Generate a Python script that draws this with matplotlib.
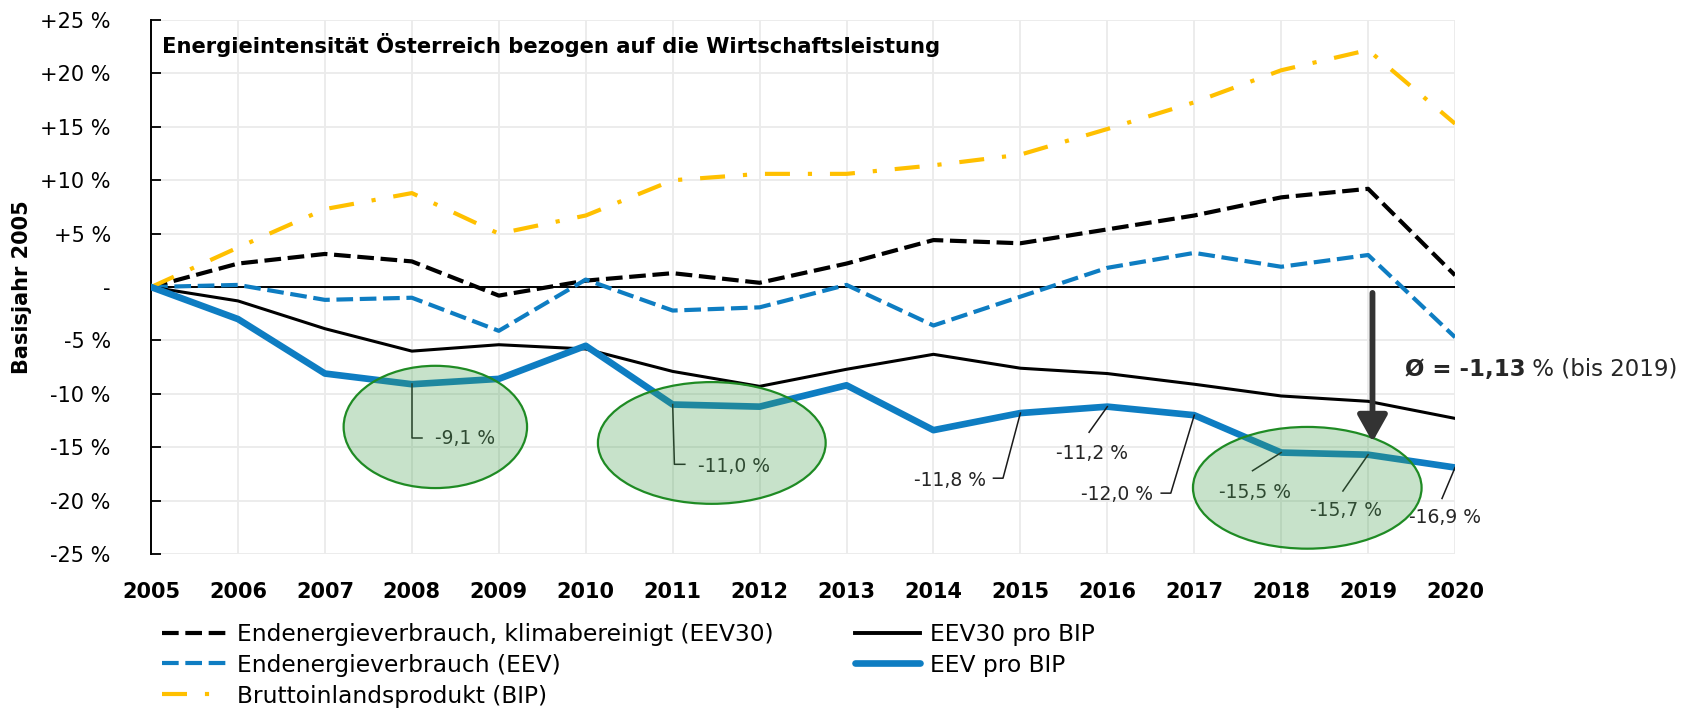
import matplotlib
matplotlib.use('Agg')
import matplotlib.pyplot as plt
from matplotlib.patches import Ellipse
from matplotlib.lines import Line2D
from matplotlib.transforms import offset_copy

plt.rcParams['font.family'] = ['DejaVu Sans']

years = list(range(2005, 2021))
eev30 = [0, 2.2, 3.1, 2.4, -0.8, 0.6, 1.3, 0.4, 2.2, 4.4, 4.1, 5.4, 6.7, 8.4, 9.2, 1.1]
eev = [0, 0.2, -1.2, -1.0, -4.1, 0.7, -2.2, -1.9, 0.2, -3.6, -0.9, 1.8, 3.2, 1.9, 3.0, -4.7]
bip = [0, 3.7, 7.3, 8.8, 5.0, 6.7, 10.0, 10.6, 10.6, 11.4, 12.4, 14.8, 17.3, 20.3, 22.2, 15.3]
eev30_pro_bip = [0, -1.3, -3.9, -6.0, -5.4, -5.8, -7.9, -9.3, -7.7, -6.3, -7.6, -8.1, -9.1, -10.2, -10.7, -12.3]
eev_pro_bip = [0, -3.0, -8.1, -9.1, -8.6, -5.5, -11.0, -11.2, -9.2, -13.4, -11.8, -11.2, -12.0, -15.5, -15.7, -16.9]

series_names = ['Endenergieverbrauch, klimabereinigt (EEV30)', 'Endenergieverbrauch (EEV)',
                'Bruttoinlandsprodukt (BIP)', 'EEV30 pro BIP', 'EEV pro BIP']

ytick_vals = [25, 20, 15, 10, 5, 0, -5, -10, -15, -20, -25]
ytick_labels = ['+25 %', '+20 %', '+15 %', '+10 %', '+5 %', '-', '-5 %', '-10 %', '-15 %', '-20 %', '-25 %']

label_years = [2008, 2011, 2015, 2016, 2017, 2018, 2019, 2020]
label_texts = ['-9,1 %', '-11,0 %', '-11,8 %', '-11,2 %', '-12,0 %', '-15,5 %', '-15,7 %', '-16,9 %']

title = 'Energieintensität Österreich bezogen auf die Wirtschaftsleistung'
avg_bold = 'Ø = -1,13'
avg_rest = ' % (bis 2019)'

blue = '#0E7DC2'
yellow = '#FFC000'
dash_style = (4, 1.6)
dashdot_style = (6, 4.3, 1, 4.3)

fig = plt.figure(figsize=(16.88, 7.1), dpi=100)
ax = fig.add_axes([0.0895, 0.2197, 0.7725, 0.752])

ax.plot(years, eev30, color='black', lw=3, dashes=dash_style, zorder=3)
ax.plot(years, eev, color=blue, lw=3, dashes=dash_style, zorder=3)
ax.plot(years, bip, color=yellow, lw=3, dashes=dashdot_style, zorder=3)
ax.plot(years, eev30_pro_bip, color='black', lw=2.2, zorder=3)
ax.plot(years, eev_pro_bip, color=blue, lw=4.8, zorder=4)

ax.axhline(0, color='black', lw=1.4, zorder=2)

# data labels with leader lines (offsets in data units)
label_style = {
    2008: ((0.27, -5.05), 'left', [(0, 0), (0, -5.0), (0.12, -5.0)]),
    2011: ((0.29, -5.8), 'left', [(0, 0), (0.02, -5.6), (0.14, -5.6)]),
    2015: ((-0.39, -6.3), 'right', [(0, 0), (-0.2, -6.1), (-0.31, -6.1)]),
    2016: ((-0.18, -4.35), 'center', [(0, 0), (-0.21, -2.4)]),
    2017: ((-0.48, -7.4), 'right', [(0, 0), (-0.27, -7.3), (-0.38, -7.3)]),
    2018: ((-0.3, -3.7), 'center', [(0, 0), (-0.33, -1.7)]),
    2019: ((-0.26, -5.2), 'center', [(0, 0), (-0.29, -3.4)]),
    2020: ((-0.12, -4.7), 'center', [(0, 0), (-0.15, -2.9)]),
}
for yr, txt in zip(label_years, label_texts):
    val = eev_pro_bip[years.index(yr)]
    (dx, dy), ha, path = label_style[yr]
    ax.plot([yr + p[0] for p in path], [val + p[1] for p in path], color='#1a1a1a', lw=1.1, zorder=4)
    ax.text(yr + dx, val + dy, txt, ha=ha, va='center', fontsize=13.5, color='#262626', zorder=4)

# highlighted regions
for cx, cy, w, h in [(2008.27, -13.1, 2.11, 11.45), (2011.45, -14.6, 2.62, 11.4), (2018.3, -18.8, 2.63, 11.4)]:
    ax.add_patch(Ellipse((cx, cy), w, h, facecolor='#46A050', alpha=0.3, edgecolor='none', zorder=5))
    ax.add_patch(Ellipse((cx, cy), w, h, facecolor='none', edgecolor='#1F8B24', lw=1.6, zorder=5))

ax.annotate('', xy=(2019.05, -14.5), xytext=(2019.05, -0.55),
            arrowprops=dict(arrowstyle='-|>,head_length=0.8,head_width=0.45', lw=4.2,
                            color='#333333', mutation_scale=20, shrinkA=0, shrinkB=0), zorder=6)

t1 = ax.text(2019.42, -8.3, avg_bold, fontsize=16.5, fontweight='bold', va='baseline', ha='left',
             color='#262626', clip_on=False)
fig.canvas.draw()
bb = t1.get_window_extent()
ax.text(2019.42, -8.3, avg_rest, fontsize=16.5, va='baseline', ha='left', color='#262626', clip_on=False,
        transform=offset_copy(ax.transData, fig=fig, x=bb.width, units='dots'))

ax.text(0.0085, 0.953, title, transform=ax.transAxes, fontsize=15.2, fontweight='bold', va='center', ha='left')

ax.set_xlim(2005, 2020)
ax.set_ylim(-25, 25)
ax.set_xticks(years)
ax.set_xticklabels([str(y) for y in years], fontsize=15, fontweight='bold')
ax.set_yticks(ytick_vals)
ax.set_yticklabels(ytick_labels, fontsize=15)
ax.tick_params(axis='x', length=0, pad=20)
ax.tick_params(axis='y', direction='in', length=7, width=1.3, pad=29)
ax.grid(True, color='#ebebeb', lw=1.3, zorder=0)
ax.set_axisbelow(True)
for s in ['top', 'right', 'bottom']:
    ax.spines[s].set_visible(False)
ax.spines['left'].set_linewidth(1.4)
ax.set_ylabel('Basisjahr 2005', fontsize=15, fontweight='bold')
ax.yaxis.set_label_coords(-0.091, 0.5)

h1 = [Line2D([], [], color='black', lw=3, dashes=dash_style),
      Line2D([], [], color=blue, lw=3, dashes=dash_style),
      Line2D([], [], color=yellow, lw=3, dashes=dashdot_style)]
h2 = [Line2D([], [], color='black', lw=2.8),
      Line2D([], [], color=blue, lw=4.8, solid_capstyle='round')]
leg_kw = dict(loc='upper left', frameon=False, fontsize=16.8, borderpad=0, borderaxespad=0,
              handlelength=2.8, handletextpad=0.4, labelspacing=0.34)
fig.legend(h1, series_names[:3], bbox_to_anchor=(0.096, 0.123), **leg_kw)
fig.legend(h2, series_names[3:], bbox_to_anchor=(0.5065, 0.123), **leg_kw)

fig.savefig('out.png', dpi=100)
